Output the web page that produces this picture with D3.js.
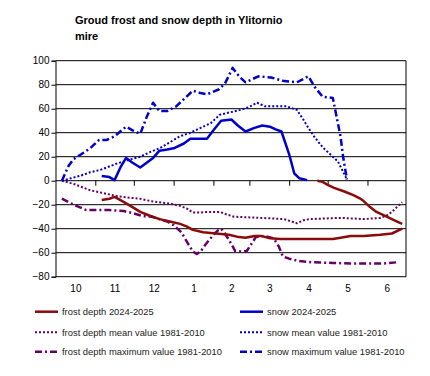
<!DOCTYPE html>
<html>
<head>
<meta charset="utf-8">
<script src="https://cdn.jsdelivr.net/npm/d3@7"></script>
<style>
  body { margin: 0; background: #fff; }
  svg { font-family: "Liberation Sans", Arial, sans-serif; }
</style>
</head>
<body>
<svg id="chart" width="430" height="376"></svg>
<script>
// days counted from 1 October
const monthLabels = ["10", "11", "12", "1", "2", "3", "4", "5", "6"];
const monthStarts = [0, 31, 61, 92, 123, 151, 182, 212, 243, 273];
const yTicks = [-80, -60, -40, -20, 0, 20, 40, 60, 80, 100];

const frostDepth = [[36,-16],[42,-15],[46,-13.5],[52,-17],[60,-22],[66,-26],[73,-29],[81,-32],[89,-34],[97,-36],
  [102,-38],[107,-41],[115,-43],[125,-44],[135,-45],[143,-47],[148,-47.5],[155,-46],[160,-46],[167,-48],
  [175,-48.6],[190,-48.6],[205,-48.6],[216,-48.6],[222,-47.5],[230,-46],[240,-46],[253,-45],[262,-44],[270,-40]];
const frostTop = [[204,0],[208,-1],[212,-3.5],[217,-6],[225,-9],[232,-12],[237,-14.7],[240,-17],[245,-22],
  [250,-26],[258,-30],[264,-33],[270,-36]];
const snow = [[36,4],[42,3],[46,0.5],[51,12],[55,19],[60,15],[66,11],[71,15],[76,19],[81,25],[87,26],[92,27],
  [100,31],[105,35],[112,35],[118,35],[123,42],[129,50],[137,51],[142,46],[148,41],[155,44],[161,46],[167,45],
  [171,43],[176,41],[182,22],[186,6],[190,2],[196,0.5]];
const frostMean = [[5,0],[15,-3],[27,-8],[36,-10],[46,-12.5],[56,-14],[66,-15],[74,-17],[81,-18],[89,-19],
  [97,-21],[102,-23],[107,-26.5],[113,-26.5],[118,-26],[128,-26],[133,-28],[139,-30],[150,-30.5],[160,-31],
  [170,-31.5],[178,-32],[184,-34],[188,-35.5],[193,-33],[198,-32],[210,-31.5],[222,-31],[232,-31.5],[240,-32],
  [253,-31],[258,-29],[262,-26],[266,-22],[270,-18]];
const snowMean = [[5,0],[12,2],[19,4],[27,7],[35,9],[47,14],[56,17],[66,20],[74,24],[81,27],[89,32],[97,37],
  [105,40],[113,44],[121,48],[128,55],[136,57],[144,59],[150,61],[157,65],[163,62],[170,62],[180,62],[188,59],
  [193,51],[197,44],[202,36],[208,28],[216,20],[220,16],[227,1]];
const frostMax = [[5,-15],[14,-20],[24,-24.5],[33,-24.5],[42,-24.5],[53,-25.3],[60,-27],[68,-29.5],[75,-30],
  [81,-32],[87,-34],[92,-37],[98,-43],[103,-52],[107,-59],[110,-61],[113,-59],[117,-53],[120,-49],[124,-44],
  [127,-41],[129,-40],[132,-44],[136,-51],[140,-58.6],[145,-59],[149,-58.6],[153,-52],[156,-47],[162,-46],
  [170,-48],[174,-55],[177,-63],[182,-65],[190,-67],[200,-68],[216,-68.5],[230,-69],[243,-69],[255,-69],[266,-68]];
const snowMax = [[5,0],[10,12],[14,18],[20,22],[27,27],[34,34],[40,34],[46,37],[55,45],[60,42],[66,39],[71,53],
  [76,65],[81,58],[87,58],[94,62],[100,68],[107,75],[113,73],[118,72],[127,76],[132,81],[138,94],[143,87],
  [148,82],[158,87],[168,86],[178,83],[188,82],[197,87],[202,78],[208,70],[216,69],[219,53],[222,37],[224,20],[227,1]];

const seriesNames = ["frost depth 2024-2025", "snow 2024-2025", "frost depth mean value 1981-2010",
  "snow mean value 1981-2010", "frost depth maximum value 1981-2010", "snow maximum value 1981-2010"];

const red = "#8b0a0a", blue = "#0000cc", purple = "#660066";
const styles = [
  {color: red, dash: null, w: 2.5},
  {color: blue, dash: null, w: 2.5},
  {color: purple, dash: "2,2", w: 2},
  {color: blue, dash: "2,2", w: 2},
  {color: purple, dash: "7,3,2,3", w: 2.5},
  {color: blue, dash: "7,3,2,3", w: 2.5}
];

const svg = d3.select("#chart");
const plotLeft = 55.5, plotRight = 406, plotTop = 60.7, plotBottom = 276.7;

const x = d3.scaleLinear().domain([0, 273]).range([plotLeft, plotRight]);
const y = d3.scaleLinear().domain([-80, 100]).range([plotBottom, plotTop]);

// title
const title = svg.append("text")
  .attr("x", 75).attr("y", 24)
  .attr("font-size", "11px").attr("font-weight", "bold");
title.append("tspan").attr("x", 75).text("Groud frost and snow depth in Ylitornio");
title.append("tspan").attr("x", 75).attr("dy", 16).text("mire");

// gridlines
svg.append("g").selectAll("line").data(yTicks).enter().append("line")
  .attr("x1", plotLeft).attr("x2", plotRight)
  .attr("y1", d => y(d)).attr("y2", d => y(d))
  .attr("stroke", "#000").attr("stroke-width", 1);

svg.append("line").attr("x1", plotRight).attr("x2", plotRight).attr("y1", plotTop).attr("y2", plotBottom)
  .attr("stroke", "#000");

// y axis
const yAxis = svg.append("g").attr("transform", `translate(${plotLeft},0)`)
  .call(d3.axisLeft(y).tickValues(yTicks).tickSize(4).tickPadding(2));
yAxis.selectAll("text").attr("font-size", "10px").attr("fill", "#000")
  .attr("font-family", "Liberation Sans, Arial, sans-serif");
yAxis.select(".domain").attr("stroke", "#000");

// x ticks on zero line
const xTickG = svg.append("g").attr("transform", `translate(0,${y(0)})`)
  .call(d3.axisBottom(x).tickValues(monthStarts.slice(1, -1)).tickSize(5).tickFormat(""));
xTickG.select(".domain").remove();

// x labels
const mids = monthLabels.map((m, i) => (monthStarts[i] + monthStarts[i + 1]) / 2);
const xLab = svg.append("g").attr("transform", `translate(0,${plotBottom})`)
  .call(d3.axisBottom(x).tickValues(mids).tickSize(0).tickPadding(8)
    .tickFormat((d, i) => monthLabels[i]));
xLab.select(".domain").remove();
xLab.selectAll("text").attr("font-size", "10px").attr("fill", "#000")
  .attr("font-family", "Liberation Sans, Arial, sans-serif");

// lines
const line = d3.line().x(d => x(d[0])).y(d => y(d[1]));
const draw = (data, s) => svg.append("path").datum(data)
  .attr("d", line).attr("fill", "none")
  .attr("stroke", s.color).attr("stroke-width", s.w)
  .attr("stroke-dasharray", s.dash)
  .attr("stroke-linejoin", "round");

draw(frostMean, styles[2]);
draw(frostMax, styles[4]);
draw(snowMean, styles[3]);
draw(snowMax, styles[5]);
draw(frostDepth, styles[0]);
draw(frostTop, styles[0]);
draw(snow, styles[1]);

// legend
const legX = [35, 240], legY = [311.7, 332.3, 351.7];
const leg = svg.append("g");
seriesNames.forEach((name, i) => {
  const cx = legX[i % 2], cy = legY[Math.floor(i / 2)];
  const s = styles[i];
  leg.append("line").attr("x1", cx).attr("x2", cx + 23).attr("y1", cy).attr("y2", cy)
    .attr("stroke", s.color).attr("stroke-width", s.w).attr("stroke-dasharray", s.dash);
  leg.append("text").attr("x", cx + 27).attr("y", cy).attr("dy", "0.35em")
    .attr("font-size", "9.4px").attr("fill", "#222").text(name);
});
</script>
</body>
</html>
